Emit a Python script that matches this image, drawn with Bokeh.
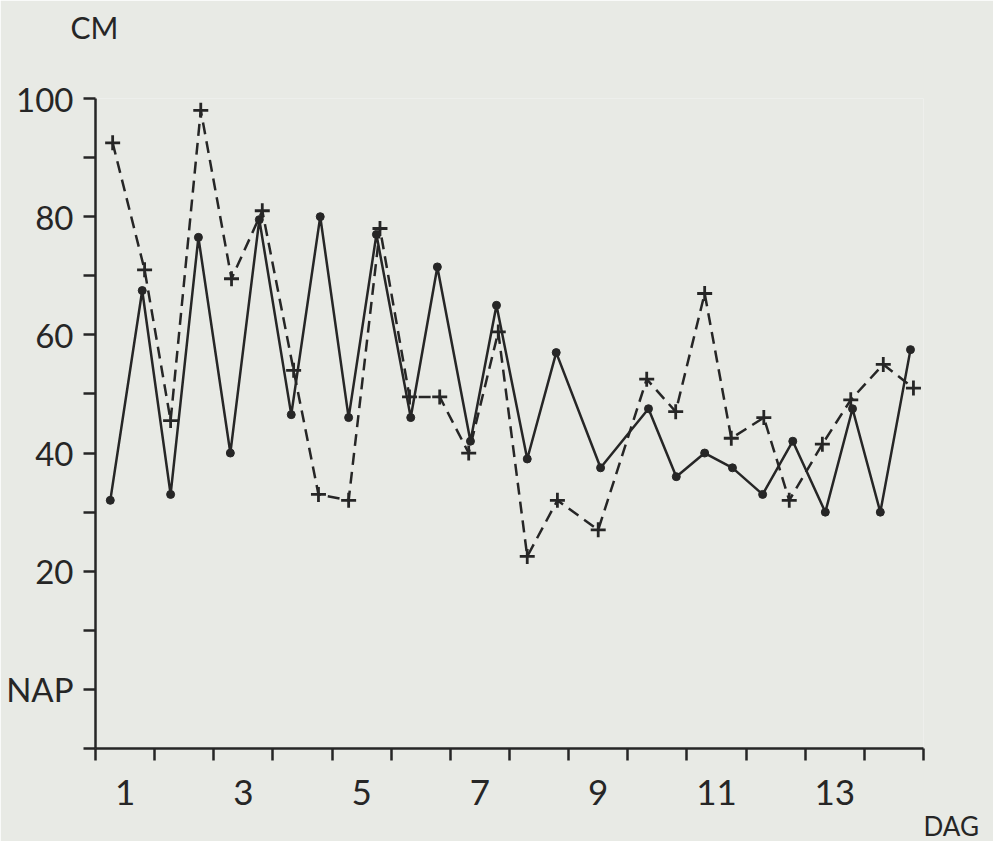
from bokeh.plotting import figure
from bokeh.models import Range1d, FixedTicker, Title
from bokeh.embed import file_html
from bokeh.resources import INLINE

# Solid series (dots): day position, water level in cm
solid_day = [0.75, 1.29, 1.77, 2.24, 2.78, 3.27, 3.81, 4.30, 4.78, 5.25, 5.83, 6.28, 6.84, 7.28,
             7.80, 8.29, 9.04, 9.85, 10.32, 10.80, 11.27, 11.78, 12.29, 12.84, 13.30, 13.77, 14.28]
solid_cm = [32, 67.5, 33, 76.5, 40, 79.5, 46.5, 80, 46, 77, 46, 71.5, 42, 65,
            39, 57, 37.5, 47.5, 36, 40, 37.5, 33, 42, 30, 47.5, 30, 57.5]

# Dashed series (crosses)
dash_day = [0.79, 1.33, 1.77, 2.28, 2.80, 3.32, 3.85, 4.27, 4.78, 5.31, 5.81, 6.32, 6.81, 7.31,
            7.80, 8.31, 9.00, 9.82, 10.31, 10.80, 11.25, 11.80, 12.23, 12.79, 13.27, 13.82, 14.33]
dash_cm = [92.5, 71, 45.5, 98, 69.5, 81, 54, 33, 32, 78, 49.5, 49.5, 40, 60.5,
           22.5, 32, 27, 52.5, 47, 67, 42.5, 46, 32, 41.5, 49, 55, 51]

x_labels = [1, 3, 5, 7, 9, 11, 13]
x_minor = [0.5 + i for i in range(15)]
y_labels = [0, 20, 40, 60, 80, 100]
y_minor = [-10, 10, 30, 50, 70, 90]

BG = "#e8eae5"
INK = "#262626"
FONT = "Lato"

p = figure(width=993, height=841, x_range=Range1d(0.5, 14.5), y_range=Range1d(-10, 100),
           output_backend="svg", toolbar_location=None,
           min_border_left=95, min_border_right=70, min_border_top=98, min_border_bottom=93,
           background_fill_color=BG, border_fill_color=BG, outline_line_color=None)
p.grid.visible = False

xa = p.xaxis[0]
xa.ticker = FixedTicker(ticks=x_labels, minor_ticks=x_minor)
xa.major_tick_out = 0
xa.major_tick_in = 0
xa.minor_tick_out = 12
xa.minor_tick_in = 0
xa.major_label_standoff = 19
ya = p.yaxis[0]
ya.ticker = FixedTicker(ticks=y_labels, minor_ticks=y_minor)
ya.major_label_overrides = {0: "NAP"}
ya.major_tick_out = 12
ya.major_tick_in = 0
ya.minor_tick_out = 12
ya.minor_tick_in = 0
ya.major_label_standoff = 10
for ax in (xa, ya):
    ax.axis_line_color = INK
    ax.axis_line_width = 2.5
    ax.major_tick_line_color = INK
    ax.major_tick_line_width = 2.5
    ax.minor_tick_line_color = INK
    ax.minor_tick_line_width = 2.5
    ax.major_label_text_font = FONT
    ax.major_label_text_color = INK
ya.major_label_text_font_size = "33px"
xa.major_label_text_font_size = "35px"

p.line(dash_day, dash_cm, line_color=INK, line_width=2.5, line_dash="12 7")
p.scatter(dash_day, dash_cm, marker="cross", size=15, line_color=INK, line_width=2.8)
p.line(solid_day, solid_cm, line_color=INK, line_width=2.5)
p.scatter(solid_day, solid_cm, marker="circle", size=8, fill_color=INK, line_color=INK)

# spacer between the frame and the "CM" unit label
p.add_layout(Title(text=" ", text_font_size="2px", standoff=50, text_color=BG), "above")
p.add_layout(Title(text="CM", align="left", offset=-25, standoff=0, text_font=FONT,
                   text_font_size="30px", text_font_style="normal", text_color=INK), "above")
p.add_layout(Title(text="DAG", align="left", offset=828, standoff=0, text_font=FONT,
                   text_font_size="26px", text_font_style="normal", text_color=INK), "below")

open("out.html", "w").write(file_html(p, INLINE))
